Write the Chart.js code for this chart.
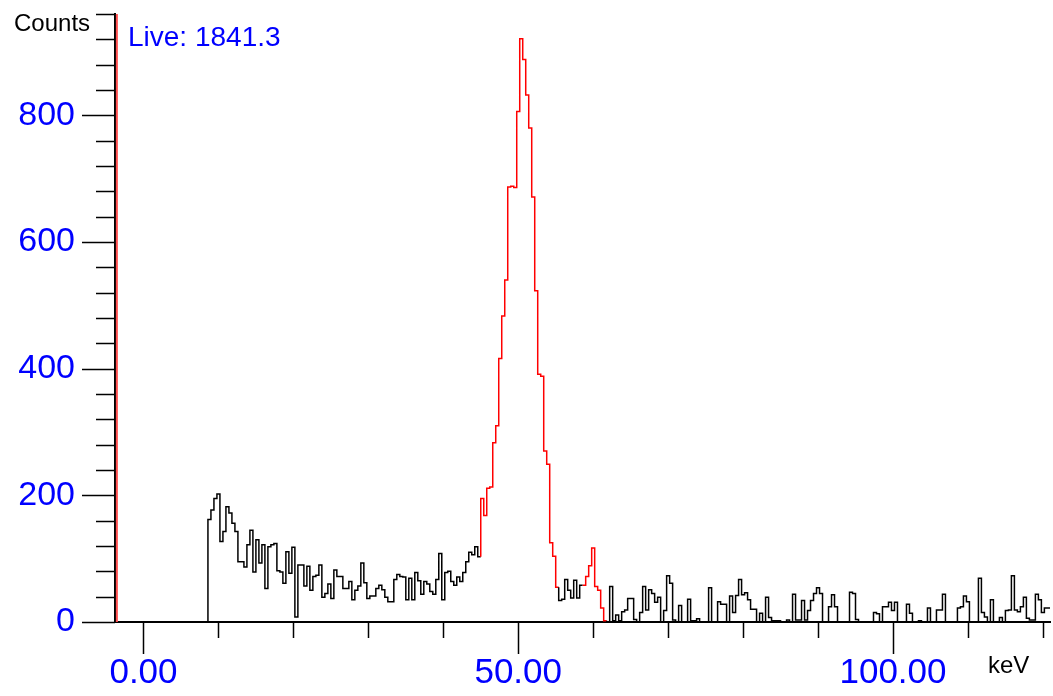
<!DOCTYPE html>
<html>
<head>
<meta charset="utf-8">
<script src="https://cdn.jsdelivr.net/npm/chart.js@4"></script>
<style>
html, body { margin: 0; padding: 0; background: #fff; }
</style>
</head>
<body>
<canvas id="spectrum" width="1053" height="696"></canvas>
<script>
// channel layout (keV)
const binStart = 8.6;
const binWidth = 0.4;

// counts per channel
const counts = [
  162, 177, 195, 202, 127, 143, 182, 172, 156, 143, 95, 95, 87, 122, 145, 79, 130, 93, 122, 53,
  119, 122, 124, 81, 79, 61, 111, 77, 118, 8, 90, 90, 57, 88, 50, 72, 74, 90, 39, 45,
  60, 37, 82, 72, 72, 53, 53, 64, 35, 50, 57, 93, 62, 37, 41, 41, 53, 58, 51, 39,
  32, 32, 67, 75, 72, 71, 35, 69, 35, 78, 65, 44, 64, 60, 48, 44, 67, 108, 35, 78,
  80, 64, 58, 71, 64, 78, 95, 110, 106, 119, 103,
  195, 168, 211, 213, 283, 310, 416, 483, 540, 687, 688, 686, 806, 921, 888, 832, 780, 671, 523, 391,
  388, 270, 249, 125, 104, 55,
  34, 36, 67, 50, 38, 66, 38, 58,
  58, 72, 89, 117, 56, 50, 22, 2,
  0, 56, 2, 11, 2, 16, 19, 37, 37, 4, 0, 15, 56, 19, 51, 45, 31, 39, 0, 18,
  73, 61, 3, 0, 26, 0, 0, 36, 2, 2, 5, 0, 0, 0, 54, 0, 0, 32, 28, 28,
  0, 41, 15, 42, 67, 43, 46, 35, 20, 20, 0,
  14, 0, 39, 7, 2, 2, 2, 0, 0, 3, 0, 44, 3, 3, 34, 3, 18, 34, 45, 54,
  45, 0, 0, 24, 43, 24, 0, 0, 0, 0, 47, 45, 4, 0, 0, 0, 0, 0, 15, 13,
  0, 24, 24, 31, 18, 31, 0, 0, 0, 28,
  14, 0, 0, 2, 0, 0, 22, 0, 0, 19, 19, 44, 0, 0, 0, 0, 22, 24, 41, 32,
  0, 0, 0, 69, 15, 8, 0, 35, 0, 0, 7, 0, 18, 19, 73, 19, 16, 24, 39, 6,
  3, 3, 44, 35, 15, 22, 22
];

// regions of interest (keV), drawn in red
const roiStartKeV = [45.0, 58.6];
const roiEndKeV = [55.4, 61.8];

// cursor marker and live time
const markerKeV = -3.55;
const liveTime = '1841.3';

// axes
const xMin = -3.8, xMax = 120.95;
const yMin = 0, yMax = 960;
const xLabels = [0, 50, 100];
const yLabels = [0, 200, 400, 600, 800];
const xMinorStep = 10;
const yMinorStep = 40;

const blue = '#0000ff';
const red = '#ff0000';
const black = '#000000';
const fontFamily = '"Liberation Sans", Arial, sans-serif';

const spectrum = [{ x: xMin, y: 0 }, { x: binStart, y: 0 }];
counts.forEach((c, i) => spectrum.push({ x: binStart + binWidth * (i + 1), y: c }));

function inRoi(e) {
  return roiStartKeV.some((s, j) => e > s && e < roiEndKeV[j]);
}

const axisDecor = {
  id: 'axisDecor',
  afterDraw(chart) {
    const { ctx, chartArea: area, scales: { x, y } } = chart;
    ctx.save();
    ctx.strokeStyle = black;
    ctx.lineWidth = 1.5;
    ctx.beginPath();
    for (let v = yMin; v <= yMax; v += yMinorStep) {
      const py = Math.round(y.getPixelForValue(v)) + 0.5;
      const len = yLabels.includes(v) ? 33 : 19;
      ctx.moveTo(area.left - len, py);
      ctx.lineTo(area.left, py);
    }
    for (let v = 0; v <= xMax; v += xMinorStep) {
      const px = Math.round(x.getPixelForValue(v)) + 0.5;
      const len = xLabels.includes(v) ? 32 : 16;
      ctx.moveTo(px, area.bottom);
      ctx.lineTo(px, area.bottom + len);
    }
    ctx.stroke();

    ctx.fillStyle = black;
    ctx.font = '24px ' + fontFamily;
    ctx.textBaseline = 'alphabetic';
    ctx.fillText('Counts', 14, 31);
    ctx.font = '24px ' + fontFamily;
    ctx.fillText('keV', 988, 673);
    ctx.fillStyle = blue;
    ctx.font = '28px ' + fontFamily;
    ctx.fillText('Live: ' + liveTime, 128, 46);
    ctx.restore();
  }
};

new Chart(document.getElementById('spectrum'), {
  type: 'line',
  data: {
    datasets: [
      {
        data: [{ x: markerKeV, y: yMin }, { x: markerKeV, y: yMax }],
        borderColor: '#ff5050',
        borderWidth: 2,
        pointRadius: 0
      },
      {
        data: spectrum,
        stepped: 'after',
        borderColor: black,
        borderWidth: 1.5,
        pointRadius: 0,
        segment: {
          borderColor: c => inRoi(c.p1.parsed.x - binWidth / 2) ? red : black
        }
      }
    ]
  },
  options: {
    responsive: false,
    animation: false,
    layout: { padding: { top: 14, right: 3, left: 0, bottom: 0 } },
    plugins: {
      legend: { display: false },
      tooltip: { enabled: false }
    },
    scales: {
      x: {
        type: 'linear',
        min: xMin,
        max: xMax,
        afterBuildTicks: s => { s.ticks = xLabels.map(v => ({ value: v })); },
        afterFit: s => { s.height = 74; },
        grid: { display: false, drawTicks: true, tickLength: 34 },
        border: { display: true, color: black, width: 2 },
        ticks: {
          color: blue,
          padding: 0,
          maxRotation: 0,
          font: { size: 35, family: fontFamily, lineHeight: 1 },
          callback: v => Number(v).toFixed(2)
        }
      },
      y: {
        type: 'linear',
        min: yMin,
        max: yMax,
        afterBuildTicks: s => { s.ticks = yLabels.map(v => ({ value: v })); },
        afterFit: s => { s.width = 115; },
        grid: { display: false, drawTicks: true, tickLength: 40 },
        border: { display: true, color: black, width: 2 },
        ticks: {
          color: blue,
          padding: 0,
          font: { size: 34, family: fontFamily, lineHeight: 0.8 },
          callback: v => String(v)
        }
      }
    }
  },
  plugins: [axisDecor]
});
</script>
</body>
</html>
